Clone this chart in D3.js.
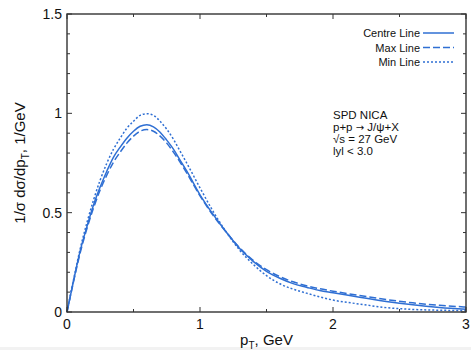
<!DOCTYPE html>
<html>
<head>
<meta charset="utf-8">
<script src="https://cdn.jsdelivr.net/npm/d3@7"></script>
<style>
  body { margin: 0; background: #fff; }
  svg { display: block; font-family: "Liberation Sans", Arial, sans-serif; }
  .frame { fill: none; stroke: #333; stroke-width: 1.4; }
  .tick-mark { stroke: #333; stroke-width: 1; }
  .tick-label { font-size: 14px; fill: #111; }
  .curve { fill: none; stroke: #2f6fd3; stroke-width: 1.5; }
</style>
</head>
<body>
<div id="chart"></div>
<script>
/* DATA */
const pt = [0, 0.05, 0.1, 0.15, 0.2, 0.25, 0.3, 0.35, 0.4, 0.45, 0.5, 0.55, 0.6, 0.65, 0.7, 0.75,
  0.8, 0.85, 0.9, 1.0, 1.1, 1.2, 1.3, 1.4, 1.5, 1.6, 1.7, 1.8, 1.9, 2.0, 2.2, 2.4, 2.6, 2.8, 3.0];

const centreLine = [0, 0.16, 0.31, 0.43, 0.54, 0.63, 0.71, 0.78, 0.83, 0.875, 0.91, 0.935, 0.943, 0.932, 0.905, 0.865,
  0.82, 0.765, 0.71, 0.59, 0.49, 0.40, 0.318, 0.255, 0.205, 0.17, 0.143, 0.125, 0.108, 0.097, 0.074, 0.053, 0.036, 0.023, 0.014];

const maxLine = [0, 0.155, 0.30, 0.42, 0.525, 0.615, 0.69, 0.755, 0.805, 0.85, 0.885, 0.91, 0.918, 0.91, 0.885, 0.85,
  0.805, 0.755, 0.70, 0.585, 0.485, 0.40, 0.322, 0.26, 0.213, 0.178, 0.152, 0.132, 0.117, 0.105, 0.083, 0.063, 0.046, 0.034, 0.025];

const minLine = [0, 0.165, 0.32, 0.45, 0.565, 0.665, 0.75, 0.82, 0.875, 0.925, 0.96, 0.99, 0.998, 0.99, 0.96, 0.92,
  0.87, 0.81, 0.75, 0.625, 0.505, 0.40, 0.31, 0.24, 0.183, 0.142, 0.115, 0.095, 0.076, 0.06, 0.04, 0.022, 0.013, 0.009, 0.007];

const seriesNames = ["Centre Line", "Max Line", "Min Line"];
const seriesDash = ["none", "7,3", "2,2"];
const xTicks = [0, 1, 2, 3];
const xMinorTicks = [0.5, 1.5, 2.5];
const yTicks = [0, 0.5, 1, 1.5];
const yMinorTicks = d3.range(1, 15).map(d => d / 10).filter(d => d !== 0.5 && d !== 1);
const infoText = ["SPD NICA", "p+p \u2192 J/\u03c8+X", "\u221as = 27 GeV", "lyl < 3.0"];

/* LAYOUT */
const width = 471,
  height = 350,
  margin = { top: 14, right: 5, bottom: 38, left: 67 };

const svg = d3.select("#chart")
  .append("svg")
  .attr("width", width)
  .attr("height", height);

const xScale = d3.scaleLinear()
  .domain([0, 3])
  .range([margin.left, width - margin.right]);

const yScale = d3.scaleLinear()
  .domain([0, 1.5])
  .range([height - margin.bottom, margin.top]);

const x0 = xScale(0), x1 = xScale(3), y0 = yScale(0), y1 = yScale(1.5);

// faint strip at the bottom of the picture
svg.append("rect")
  .attr("x", 0).attr("y", height - 3)
  .attr("width", width).attr("height", 3)
  .attr("fill", "#f2f2f2");

/* CURVES */
const allSeries = [centreLine, maxLine, minLine];
const lineFunc = d3.line()
  .x((d, i) => xScale(pt[i]))
  .y(d => yScale(d))
  .curve(d3.curveMonotoneX);

svg.selectAll("path.curve")
  .data(allSeries)
  .join("path")
  .attr("class", "curve")
  .attr("stroke-dasharray", (d, i) => seriesDash[i])
  .attr("d", d => lineFunc(d));

/* TICKS (inward on all four sides) */
const ticksG = svg.append("g");
function xTickMarks(vals, len) {
  vals.forEach(v => {
    ticksG.append("line").attr("class", "tick-mark")
      .attr("x1", xScale(v)).attr("x2", xScale(v)).attr("y1", y0).attr("y2", y0 - len);
    ticksG.append("line").attr("class", "tick-mark")
      .attr("x1", xScale(v)).attr("x2", xScale(v)).attr("y1", y1).attr("y2", y1 + len);
  });
}
function yTickMarks(vals, len) {
  vals.forEach(v => {
    ticksG.append("line").attr("class", "tick-mark")
      .attr("x1", x0).attr("x2", x0 + len).attr("y1", yScale(v)).attr("y2", yScale(v));
    ticksG.append("line").attr("class", "tick-mark")
      .attr("x1", x1).attr("x2", x1 - len).attr("y1", yScale(v)).attr("y2", yScale(v));
  });
}
xTickMarks(xTicks, 5);
xTickMarks(xMinorTicks, 3);
yTickMarks(yTicks, 5);
yTickMarks(yMinorTicks, 3);

svg.append("rect")
  .attr("class", "frame")
  .attr("x", x0).attr("y", y1)
  .attr("width", x1 - x0).attr("height", y0 - y1);

/* TICK LABELS */
svg.selectAll("text.xlab")
  .data(xTicks)
  .join("text")
  .attr("class", "tick-label xlab")
  .attr("x", d => xScale(d))
  .attr("y", y0 + 17)
  .attr("text-anchor", "middle")
  .text(d => d);

svg.selectAll("text.ylab")
  .data(yTicks)
  .join("text")
  .attr("class", "tick-label ylab")
  .attr("x", x0 - 5)
  .attr("y", d => yScale(d) + 5)
  .attr("text-anchor", "end")
  .text(d => d);

/* AXIS TITLES */
const xTitle = svg.append("text")
  .attr("x", (x0 + x1) / 2)
  .attr("y", height - 5)
  .attr("text-anchor", "middle")
  .attr("font-size", 15)
  .attr("fill", "#111");
xTitle.append("tspan").text("p");
xTitle.append("tspan").attr("font-size", 10).attr("dy", 4).text("T");
xTitle.append("tspan").attr("dy", -4).text(", GeV");

const yTitle = svg.append("text")
  .attr("transform", `translate(25,${(y0 + y1) / 2}) rotate(-90)`)
  .attr("text-anchor", "middle")
  .attr("font-size", 15)
  .attr("fill", "#111");
yTitle.append("tspan").text("1/\u03c3 d\u03c3/dp");
yTitle.append("tspan").attr("font-size", 10).attr("dy", 4).text("T");
yTitle.append("tspan").attr("dy", -4).text(", 1/GeV");

/* LEGEND */
const legend = svg.append("g").attr("transform", "translate(420,33)");
seriesNames.forEach((name, i) => {
  const row = legend.append("g").attr("transform", `translate(0,${i * 14.5})`);
  row.append("text")
    .attr("x", 0).attr("y", 4)
    .attr("text-anchor", "end")
    .attr("font-size", 11)
    .attr("fill", "#111")
    .text(name);
  row.append("line")
    .attr("class", "curve")
    .attr("x1", 3).attr("x2", 34)
    .attr("y1", 0).attr("y2", 0)
    .attr("stroke-dasharray", seriesDash[i]);
});

/* ANNOTATION */
svg.selectAll("text.info")
  .data(infoText)
  .join("text")
  .attr("class", "info")
  .attr("x", 333)
  .attr("y", (d, i) => 119 + i * 12)
  .attr("font-size", 11.5)
  .attr("fill", "#111")
  .each(function(d) {
    const t = d3.select(this);
    d.split(/(\u2192)/).forEach(part => {
      const span = t.append("tspan").text(part);
      if (part === "\u2192") span.attr("font-family", "DejaVu Sans").attr("font-size", 10);
    });
  });
</script>
</body>
</html>
